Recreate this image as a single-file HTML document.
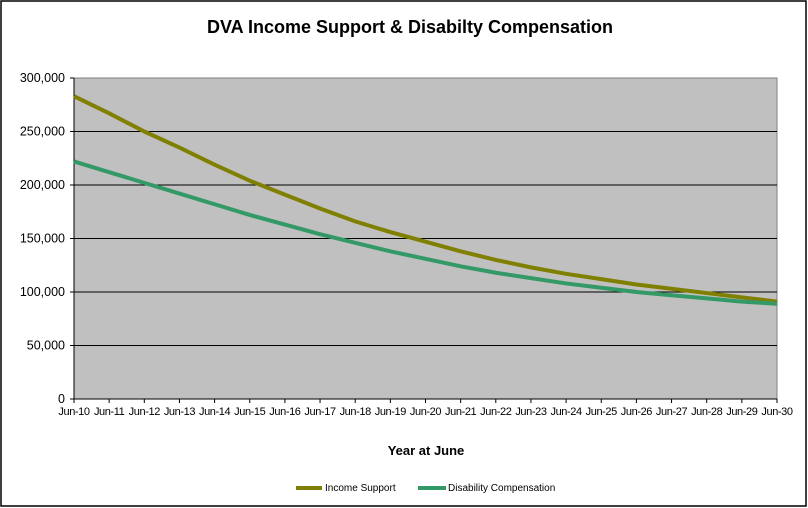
<!DOCTYPE html>
<html><head><meta charset="utf-8"><style>
body{margin:0;background:#fff;font-family:"Liberation Sans",Arial,sans-serif}
svg{display:block}
</style></head><body>
<svg width="808" height="508">
<rect x="1" y="1" width="805" height="505" fill="#fff" stroke="#000" stroke-width="1.5"/>
<text x="410" y="33" text-anchor="middle" font-size="18" font-weight="bold">DVA Income Support &amp; Disabilty Compensation</text>
<g id="plot"></g>
<text x="426" y="455" text-anchor="middle" font-size="13" font-weight="bold">Year at June</text>
<g>
<line x1="296" y1="488" x2="322" y2="488" stroke="#808000" stroke-width="4"/>
<text x="325" y="491" font-size="10">Income Support</text>
<line x1="418" y1="488" x2="446" y2="488" stroke="#339966" stroke-width="4"/>
<text x="448" y="491" font-size="10">Disability Compensation</text>
</g>
</svg>
<script>
const categories=["Jun-10","Jun-11","Jun-12","Jun-13","Jun-14","Jun-15","Jun-16","Jun-17","Jun-18","Jun-19","Jun-20","Jun-21","Jun-22","Jun-23","Jun-24","Jun-25","Jun-26","Jun-27","Jun-28","Jun-29","Jun-30"];
const incomeSupport=[283000,267000,250000,235000,219000,204000,191000,178000,166000,156000,147000,138000,130000,123000,117000,112000,107000,103000,99000,95000,91000];
const disabilityComp=[222000,212000,202000,192000,182000,172000,163000,154000,146000,138000,131000,124000,118000,113000,108000,104000,100000,97000,94000,91000,89000];
const yTicks=[0,50000,100000,150000,200000,250000,300000];
const yTickLabels=["0","50,000","100,000","150,000","200,000","250,000","300,000"];
const NS="http://www.w3.org/2000/svg";
const L=74,R=777,T=78,B=399,yMax=300000;
const xs=i=>L+(R-L)*i/(categories.length-1);
const ys=v=>B-(B-T)*v/yMax;
const g=document.getElementById('plot');
function mk(t,a){const e=document.createElementNS(NS,t);for(const k in a)e.setAttribute(k,a[k]);g.appendChild(e);return e;}
let e=mk('rect',{x:L,y:T,width:R-L,height:B-T,fill:'#c0c0c0',stroke:'#808080'});


yTicks.forEach((v,i)=>{
  if(v>0&&v<yMax){const l=mk('line',{x1:L,x2:R,y1:ys(v),y2:ys(v),stroke:'#000','stroke-width':1});
  
  }
  const tk=mk('line',{x1:L-4,x2:L,y1:ys(v),y2:ys(v),stroke:'#000'});
  
  
  const t=mk('text',{x:L-9,y:ys(v)+4,'text-anchor':'end','font-size':12.5});
  t.textContent=yTickLabels[i];
  
  
});
e=mk('line',{x1:L,x2:L,y1:T,y2:B+4,stroke:'#000'});


e=mk('line',{x1:L,x2:R,y1:B,y2:B,stroke:'#000'});


categories.forEach((c,i)=>{
  const tk=mk('line',{x1:xs(i),x2:xs(i),y1:B,y2:B+4,stroke:'#000'});
  
  
  const t=mk('text',{x:xs(i),y:B+16,'text-anchor':'middle','font-size':11,'letter-spacing':'-0.4'});
  t.textContent=c;
  
  
});
function line(data,color,name){
  const p=mk('polyline',{points:data.map((v,i)=>xs(i)+','+ys(v)).join(' '),fill:'none',stroke:color,'stroke-width':4,'stroke-linejoin':'round'});
  
  
}
line(incomeSupport,'#808000','income-support-line');
line(disabilityComp,'#339966','disability-compensation-line');
</script>
</body></html>
